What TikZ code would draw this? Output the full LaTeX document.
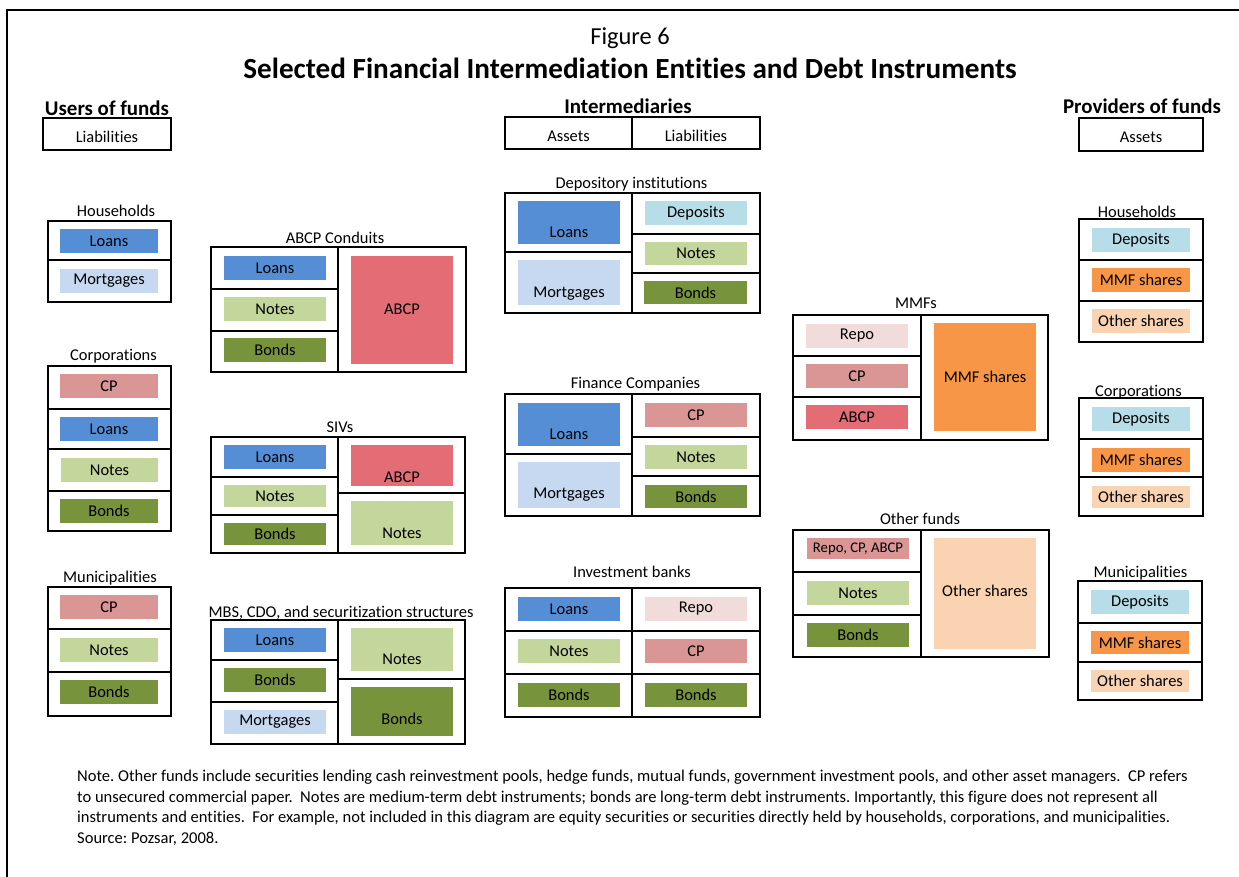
\documentclass[tikz,border=0pt]{standalone}
\usepackage{fontspec}
\setmainfont{Carlito}[Ligatures=NoCommon]
\usetikzlibrary{fit}
\frenchspacing
\definecolor{cLoan}{HTML}{558ED5}
\definecolor{cMort}{HTML}{C6D9F1}
\definecolor{cNote}{HTML}{C3D69B}
\definecolor{cBond}{HTML}{77933C}
\definecolor{cCP}{HTML}{D99694}
\definecolor{cABCP}{HTML}{E46C75}
\definecolor{cRepo}{HTML}{F2DCDB}
\definecolor{cDep}{HTML}{B7DEE8}
\definecolor{cMMF}{HTML}{F79646}
\definecolor{cOth}{HTML}{FAD3B2}
\newcommand\fsN{\fontsize{16.5}{19}\selectfont}
\newcommand\fsS{\fontsize{14.8}{17}\selectfont}
\newcommand\fsH{\fontsize{21}{24}\selectfont\bfseries}
\newcommand\fsNote{\fontsize{16.6}{19}\selectfont}
\newcommand\frm[3]{\node[frm, fit={(#2) (#3)}] (#1) {};}
\newcommand\ins[5]{\node[fl, fill=#2, fit={(#3) (#4)}] (#1) {};
  \node[ins] (#1t) at (#1.center) {#5};}
\newcommand\insb[6]{\node[fl, fill=#2, fit={(#3) (#4)}] (#1) {};
  \node[lab] (#1t) at (#1.center |- 0,#5) {#6};}
\newcommand\lab[3]{\node[lab] (#1) at (#2) {#3};}
\tikzset{
  frm/.style={draw, line width=1.4bp, inner sep=0pt},
  fl/.style={inner sep=0pt, draw=none},
  ins/.style={inner sep=0pt, font=\fsN},
  lab/.style={inner sep=0pt, anchor=base, font=\fsN},
  hdr/.style={inner sep=0pt, anchor=base, font=\fsH},
  div/.style={line width=1.4bp},
  note/.style={inner sep=0pt, anchor=base west, font=\fsNote},
}
\begin{document}
\begin{tikzpicture}[x=1bp,y=-1bp]
\useasboundingbox (0,0) rectangle (1239,877);
% outer frame
\coordinate (fa) at (1239,10);
\coordinate (fb) at (7,10);
\coordinate (fc) at (7,877);
\draw[line width=1.2bp] (fa) -- (fb) -- (fc);
% titles
\node[inner sep=0pt, anchor=base, font=\fontsize{24.5}{28}\selectfont] (fig) at (630,44) {Figure 6};
\node[inner sep=0pt, anchor=base, font=\fontsize{29.3}{33}\selectfont\bfseries] (title) at (630,78) {Selected Financial Intermediation Entities and Debt Instruments};
% headers
\node[hdr] (husers) at (107,115) {Users of funds};
\node[hdr] (hint) at (628,113) {Intermediaries};
\node[hdr] (hprov) at (1142,113) {Providers of funds};
\frm{liabU}{43,118}{171,150}
\lab{liabUt}{107,142}{Liabilities}
\frm{alI}{505,117}{760,149}
\draw[div] (632,117) -- (632,149);
\lab{assI}{568.5,141}{Assets}
\lab{liabI}{696,141}{Liabilities}
\frm{assP}{1079,118}{1203,151}
\lab{assPt}{1141,142}{Assets}

% ---------- Users of funds
\lab{hhUl}{116,216.5}{Households}
\frm{hhU}{48,221}{171,302}
\draw[div] (48,260) -- (171,260);
\ins{hhU1}{cLoan}{60,229}{158,253}{Loans}
\ins{hhU2}{cMort}{60,269}{158,293}{Mortgages}

\lab{corpUl}{113.5,360.5}{Corporations}
\frm{corpU}{48,366}{171,531}
\draw[div] (48,409) -- (171,409);
\draw[div] (48,449) -- (171,449);
\draw[div] (48,491) -- (171,491);
\ins{corpU1}{cCP}{60,374}{158,398}{CP}
\ins{corpU2}{cLoan}{60,417}{158,441}{Loans}
\ins{corpU3}{cNote}{61,458}{158,482}{Notes}
\ins{corpU4}{cBond}{60,499}{158,523}{Bonds}

\lab{munUl}{110,582}{Municipalities}
\frm{munU}{48,587}{171,716}
\draw[div] (48,629) -- (171,629);
\draw[div] (48,672) -- (171,672);
\ins{munU1}{cCP}{60,595}{158,619}{CP}
\ins{munU2}{cNote}{60,638}{158,662}{Notes}
\ins{munU3}{cBond}{60,680}{158,704}{Bonds}

% ---------- ABCP conduits
\lab{abcpl}{335,243}{ABCP Conduits}
\frm{abcp}{211,247}{466,372}
\draw[div] (338,247) -- (338,372);
\draw[div] (211,289) -- (338,289);
\draw[div] (211,331) -- (338,331);
\ins{abcp1}{cLoan}{224,256}{326,280}{Loans}
\ins{abcp2}{cNote}{224,297}{326,321}{Notes}
\ins{abcp3}{cBond}{224,338}{326,362}{Bonds}
\insb{abcp4}{cABCP}{351,256}{453,364}{314}{ABCP}

% ---------- SIVs
\lab{sivl}{340,432}{SIVs}
\frm{siv}{211,437}{465,553}
\draw[div] (338,437) -- (338,553);
\draw[div] (211,477) -- (338,477);
\draw[div] (211,515) -- (338,515);
\draw[div] (338,493) -- (465,493);
\ins{siv1}{cLoan}{224,445}{326,469}{Loans}
\ins{siv2}{cNote}{224,485}{326,507}{Notes}
\ins{siv3}{cBond}{224,523}{326,545}{Bonds}
\insb{siv4}{cABCP}{351,445}{453,486}{482}{ABCP}
\insb{siv5}{cNote}{351,501}{453,545}{538}{Notes}

% ---------- MBS
\lab{mbsl}{341,617}{MBS, CDO, and securitization structures}
\frm{mbs}{211,620}{465,744}
\draw[div] (338,620) -- (338,744);
\draw[div] (211,660) -- (338,660);
\draw[div] (211,702) -- (338,702);
\draw[div] (338,679) -- (465,679);
\ins{mbs1}{cLoan}{224,628}{326,652}{Loans}
\ins{mbs2}{cBond}{224,668}{326,692}{Bonds}
\ins{mbs3}{cMort}{224,710}{326,734}{Mortgages}
\insb{mbs4}{cNote}{351,628}{453,671}{664}{Notes}
\insb{mbs5}{cBond}{351,687}{453,736}{724}{Bonds}

% ---------- Depository institutions
\lab{depl}{631.5,188}{Depository institutions}
\frm{dep}{505,193}{760,313}
\draw[div] (632,193) -- (632,313);
\draw[div] (505,252) -- (632,252);
\draw[div] (632,234) -- (760,234);
\draw[div] (632,273) -- (760,273);
\insb{dep1}{cLoan}{518,201}{620,244}{237}{Loans}
\insb{dep2}{cMort}{518,260}{620,305}{297}{Mortgages}
\ins{dep3}{cDep}{645,201}{747,225}{Deposits}
\ins{dep4}{cNote}{645,242}{747,265}{Notes}
\ins{dep5}{cBond}{644,281}{747,304}{Bonds}

% ---------- Finance companies
\lab{finl}{635.5,388}{Finance Companies}
\frm{fin}{505,394}{760,516}
\draw[div] (632,394) -- (632,516);
\draw[div] (505,454) -- (632,454);
\draw[div] (632,437) -- (760,437);
\draw[div] (632,476) -- (760,476);
\insb{fin1}{cLoan}{518,403}{620,446}{439}{Loans}
\insb{fin2}{cMort}{518,462}{620,508}{498}{Mortgages}
\ins{fin3}{cCP}{645,403}{747,427}{CP}
\ins{fin4}{cNote}{645,445}{747,469}{Notes}
\ins{fin5}{cBond}{645,485}{747,508}{Bonds}

% ---------- Investment banks
\lab{ibl}{632,577}{Investment banks}
\frm{ib}{505,588}{760,717}
\draw[div] (632,588) -- (632,717);
\draw[div] (505,631) -- (760,631);
\draw[div] (505,674) -- (760,674);
\ins{ib1}{cLoan}{518,597}{620,621}{Loans}
\ins{ib2}{cNote}{518,639}{620,663}{Notes}
\ins{ib3}{cBond}{518,683}{620,707}{Bonds}
\ins{ib4}{cRepo}{645,597}{747,621}{Repo}
\ins{ib5}{cCP}{645,639}{747,663}{CP}
\ins{ib6}{cBond}{645,683}{747,707}{Bonds}

% ---------- MMFs
\lab{mmfl}{916,308}{MMFs}
\frm{mmf}{793,315}{1048,440}
\draw[div] (921,315) -- (921,440);
\draw[div] (793,356) -- (921,356);
\draw[div] (793,397) -- (921,397);
\ins{mmf1}{cRepo}{806,324}{908,348}{Repo}
\ins{mmf2}{cCP}{806,364}{908,388}{CP}
\ins{mmf3}{cABCP}{806,405}{908,429}{ABCP}
\insb{mmf4}{cMMF}{934,323}{1036,431}{382}{MMF shares}

% ---------- Other funds
\lab{ofl}{920,524}{Other funds}
\frm{of}{793,530}{1049,657}
\draw[div] (921,530) -- (921,657);
\draw[div] (793,572) -- (921,572);
\draw[div] (793,615) -- (921,615);
\node[fl, fill=cCP, fit={(807,538) (909,559)}] (of1) {};
\node[ins, font=\fsS] (of1t) at (of1.center) {Repo, CP, ABCP};
\ins{of2}{cNote}{807,581}{909,605}{Notes}
\ins{of3}{cBond}{807,623}{909,647}{Bonds}
\insb{of4}{cOth}{934,538}{1036,649}{596}{Other shares}

% ---------- Providers
\lab{hhPl}{1137,217}{Households}
\frm{hhP}{1079,219}{1203,342}
\draw[div] (1079,260) -- (1203,260);
\draw[div] (1079,301) -- (1203,301);
\ins{hhP1}{cDep}{1092,228}{1190,252}{Deposits}
\ins{hhP2}{cMMF}{1092,268}{1190,292}{MMF shares}
\ins{hhP3}{cOth}{1092,309}{1190,333}{Other shares}

\lab{corpPl}{1138.5,396}{Corporations}
\frm{corpP}{1079,398}{1203,516}
\draw[div] (1079,439) -- (1203,439);
\draw[div] (1079,477) -- (1203,477);
\ins{corpP1}{cDep}{1092,407}{1190,431}{Deposits}
\ins{corpP2}{cMMF}{1092,448}{1190,472}{MMF shares}
\ins{corpP3}{cOth}{1092,486}{1190,508}{Other shares}

\lab{munPl}{1140.5,577}{Municipalities}
\frm{munP}{1078,581}{1202,700}
\draw[div] (1078,623) -- (1202,623);
\draw[div] (1078,662) -- (1202,662);
\ins{munP1}{cDep}{1091,590}{1189,614}{Deposits}
\ins{munP2}{cMMF}{1091,631}{1189,654}{MMF shares}
\ins{munP3}{cOth}{1091,670}{1189,692}{Other shares}

% ---------- Note
\node[note] (n1) at (77,781) {Note. Other funds include securities lending cash reinvestment pools, hedge funds, mutual funds, government investment pools, and other asset managers.\ \ CP refers};
\node[note] (n2) at (77,802) {to unsecured commercial paper.\ \ Notes are medium-term debt instruments; bonds are long-term debt instruments. Importantly, this figure does not represent all};
\node[note] (n3) at (77,822) {instruments and entities.\ \ For example, not included in this diagram are equity securities or securities directly held by households, corporations, and municipalities.};
\node[note] (n4) at (77,843) {Source: Pozsar, 2008.};
\end{tikzpicture}
\end{document}
